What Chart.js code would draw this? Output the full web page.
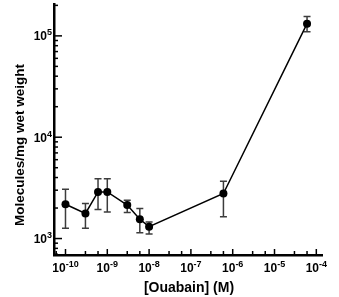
<!DOCTYPE html>
<html>
<head>
<meta charset="utf-8">
<script src="https://cdn.jsdelivr.net/npm/chart.js@4/dist/chart.umd.min.js"></script>
<style>
  body { margin: 0; background: #fff; }
  #ouabainChart { display: block; }
</style>
</head>
<body>
<canvas id="ouabainChart" width="339" height="297"></canvas>
<script>
// ouabain concentration (M) and bound molecules per mg wet weight
const concentration = [1e-10, 3e-10, 6e-10, 1e-9, 3e-9, 6e-9, 1e-8, 6e-7, 6e-5];
const molecules = [2180, 1770, 2880, 2880, 2140, 1550, 1310, 2780, 132000];
const errHigh = [3070, 2220, 3900, 3900, 2390, 1980, 1460, 3670, 155000];
const errLow = [1260, 1260, 1940, 1830, 1810, 1140, 1110, 1640, 110000];

// decade labels (powers of ten)
const xTickExponents = [-10, -9, -8, -7, -6, -5, -4];
const yTickExponents = [3, 4, 5];

const xTitle = '[Ouabain] (M)';
const yTitle = 'Molecules/mg wet weight';

const FONT = '"Liberation Sans", Arial, sans-serif';

function drawPower(ctx, exp, cx, baseY, align) {
  ctx.font = 'bold 12px ' + FONT;
  const wb = ctx.measureText('10').width;
  ctx.font = 'bold 9px ' + FONT;
  const we = ctx.measureText(String(exp)).width;
  let start;
  if (align === 'right') start = cx - wb - we;
  else start = cx - (wb + we) / 2;
  ctx.textAlign = 'left';
  ctx.textBaseline = 'alphabetic';
  ctx.font = 'bold 12px ' + FONT;
  ctx.fillText('10', start, baseY);
  ctx.font = 'bold 9px ' + FONT;
  ctx.fillText(String(exp), start + wb, baseY - 5);
}

const extras = {
  id: 'extras',
  beforeDatasetsDraw(chart) {
    const { ctx, scales: { x, y } } = chart;
    ctx.save();
    ctx.strokeStyle = '#3c3c3c';
    ctx.lineWidth = 1.5;
    concentration.forEach((c, i) => {
      const px = x.getPixelForValue(c);
      const top = y.getPixelForValue(errHigh[i]);
      const bot = y.getPixelForValue(errLow[i]);
      ctx.beginPath();
      ctx.moveTo(px, top); ctx.lineTo(px, bot);
      ctx.moveTo(px - 3.5, top); ctx.lineTo(px + 3.5, top);
      ctx.moveTo(px - 3.5, bot); ctx.lineTo(px + 3.5, bot);
      ctx.stroke();
    });
    ctx.restore();
  },
  afterDraw(chart) {
    const { ctx, scales: { x, y }, chartArea } = chart;
    ctx.save();
    ctx.strokeStyle = '#000';
    ctx.lineWidth = 1.5;
    ctx.fillStyle = '#000';

    // inward ticks on the x axis
    for (let n = -11; n <= -4; n++) {
      [1, 3, 6].forEach(m => {
        const v = m * Math.pow(10, n);
        if (v < x.min || v > x.max) return;
        const px = x.getPixelForValue(v);
        const len = m === 1 ? 6 : 4;
        ctx.beginPath();
        ctx.moveTo(px, chartArea.bottom);
        ctx.lineTo(px, chartArea.bottom - len);
        ctx.stroke();
      });
    }
    // inward ticks on the y axis
    for (let n = 2; n <= 5; n++) {
      for (let m = 1; m <= 9; m++) {
        const v = m * Math.pow(10, n);
        if (v < y.min || v > y.max) continue;
        const py = y.getPixelForValue(v);
        const len = m === 1 ? 8 : 4;
        ctx.beginPath();
        ctx.moveTo(chartArea.left, py);
        ctx.lineTo(chartArea.left + len, py);
        ctx.stroke();
      }
    }

    xTickExponents.forEach(e => {
      drawPower(ctx, e, x.getPixelForValue(Math.pow(10, e)), 272, 'center');
    });
    yTickExponents.forEach(e => {
      const py = y.getPixelForValue(Math.pow(10, e));
      drawPower(ctx, e, 52, py + 4.5, 'right');
    });

    // axis titles
    ctx.textAlign = 'center';
    ctx.textBaseline = 'middle';
    ctx.font = 'bold 14px ' + FONT;
    ctx.fillText(xTitle, 189, 288);
    ctx.translate(20.5, 145);
    ctx.rotate(-Math.PI / 2);
    ctx.font = 'bold 13.5px ' + FONT;
    ctx.fillText(yTitle, 0, 0);
    ctx.restore();
  }
};

const ctx = document.getElementById('ouabainChart').getContext('2d');

const data = {
  datasets: [{
    label: 'Ouabain binding',
    data: concentration.map((c, i) => ({ x: c, y: molecules[i] })),
    showLine: true,
    borderColor: '#000',
    backgroundColor: '#000',
    borderWidth: 1.5,
    pointRadius: 4,
    pointBackgroundColor: '#000',
    pointBorderWidth: 0,
    tension: 0
  }]
};

const config = {
  type: 'scatter',
  data: data,
  options: {
    responsive: false,
    animation: false,
    events: [],
    layout: { padding: { left: 0, top: 3, right: 17, bottom: 0 } },
    plugins: { legend: { display: false }, tooltip: { enabled: false } },
    scales: {
      x: {
        type: 'logarithmic',
        min: 5.31e-11,
        max: 1.368e-4,
        grid: { display: false },
        border: { display: true, color: '#000', width: 2.5 },
        ticks: { display: false },
        afterFit(scale) { scale.height = 42; }
      },
      y: {
        type: 'logarithmic',
        min: 688,
        max: 206300,
        grid: { display: false },
        border: { display: true, color: '#000', width: 2.5 },
        ticks: { display: false },
        afterFit(scale) { scale.width = 54; }
      }
    }
  },
  plugins: [extras]
};

const ouabainChart = new Chart(ctx, config);
</script>
</body>
</html>
